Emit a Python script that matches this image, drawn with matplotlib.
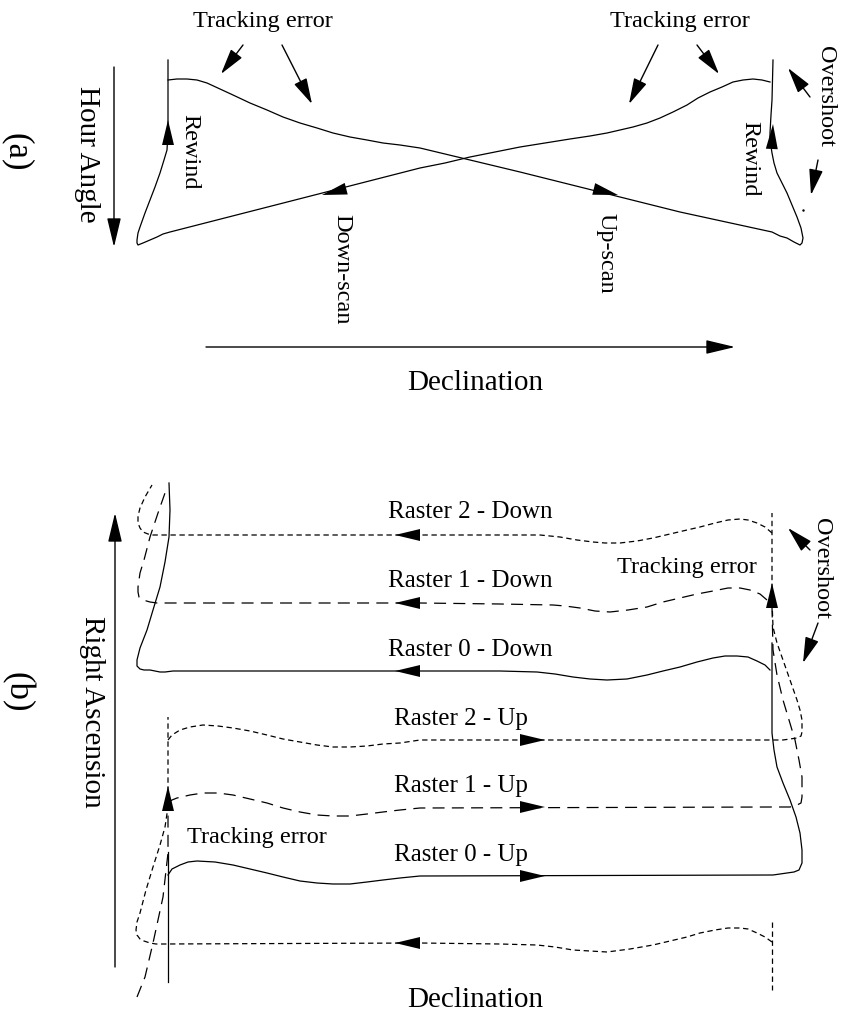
import matplotlib
matplotlib.use("Agg")
import matplotlib.pyplot as plt

plt.rcParams['font.family'] = ['Liberation Serif', 'DejaVu Serif']

# ---- panel (a): hour angle / declination scan (pixel coords, y down) ----
upscan_x = [168, 177, 187, 197, 207, 220, 233, 250, 267, 283, 300, 317, 333, 350, 367, 383, 400, 420, 470, 520, 600, 680,
            772, 780, 787, 794, 800, 802, 803, 801, 797, 792, 787, 782, 777, 774, 772, 770, 770, 771, 772, 773]
upscan_y = [80, 79, 79, 80, 83, 89, 95, 103, 110, 117, 123, 128, 133, 137, 140, 143, 145, 148, 160, 172, 192, 212,
            232, 236, 238, 242, 245, 243, 238, 228, 217, 205, 193, 183, 173, 163, 153, 140, 133, 115, 100, 60]

downscan_x = [770, 762, 753, 743, 733, 722, 710, 698, 687, 673, 660, 647, 633, 620, 607, 590, 570, 545, 520, 495, 470, 445, 420,
              170, 163, 157, 150, 143, 138, 137, 137, 138, 140, 145, 150, 155, 160, 164, 167, 168, 168, 168]
downscan_y = [82, 80, 79, 80, 82, 87, 92, 98, 105, 112, 118, 123, 127, 130, 133, 136, 139, 143, 147, 152, 157, 163, 168,
              232, 234, 237, 240, 243, 245, 243, 240, 233, 227, 213, 200, 187, 173, 160, 150, 133, 100, 60]

# ---- panel (b): raster scans ----
r2_down_x = [772, 765, 757, 748, 740, 728, 715, 700, 687, 670, 653, 637, 620, 605, 593, 577, 560, 540, 520, 420,
             160, 153, 148, 143, 140, 138, 138, 140, 145, 152]
r2_down_y = [533, 527, 523, 520, 519, 520, 523, 527, 530, 534, 538, 541, 543, 543, 542, 540, 537, 535, 535, 535,
             535, 535, 534, 532, 528, 523, 516, 508, 497, 485]

r1_down_x = [767, 760, 750, 740, 728, 713, 697, 680, 663, 647, 628, 610, 595, 580, 565, 553, 500, 420,
             157, 150, 143, 139, 138, 138, 140, 144, 150, 158, 165]
r1_down_y = [600, 594, 590, 588, 588, 591, 594, 598, 602, 607, 610, 612, 611, 608, 606, 605, 604, 603,
             603, 602, 600, 597, 592, 587, 573, 560, 537, 513, 493]

r0_down_x = [770, 765, 757, 748, 737, 725, 713, 697, 680, 663, 647, 627, 607, 590, 573, 555, 537, 500, 420,
             173, 165, 160, 155, 150, 144, 140, 137, 137, 140, 147, 153, 160, 165, 169, 170, 169]
r0_down_y = [670, 665, 661, 657, 656, 656, 658, 662, 667, 671, 675, 679, 680, 679, 677, 674, 672, 671, 671,
             671, 672, 672, 671, 670, 670, 669, 666, 660, 648, 630, 610, 587, 562, 537, 510, 483]

r2_up_x = [168, 172, 180, 190, 203, 218, 233, 250, 267, 283, 300, 317, 333, 350, 367, 383, 400, 420,
           773, 783, 790, 797, 801, 802, 802, 800, 797, 790, 783, 777, 773, 772, 772]
r2_up_y = [740, 735, 730, 727, 725, 726, 728, 731, 735, 739, 742, 745, 747, 747, 746, 744, 743, 740,
           740, 740, 739, 738, 736, 732, 720, 710, 700, 680, 660, 643, 627, 600, 513]

r1_up_x = [168, 172, 177, 190, 203, 218, 233, 250, 267, 283, 300, 317, 333, 350, 367, 383, 400, 420,
           773, 783, 790, 797, 801, 802, 802, 799, 795, 789, 783, 777, 773, 772, 772]
r1_up_y = [803, 800, 798, 795, 793, 793, 795, 799, 803, 808, 812, 815, 816, 816, 814, 812, 810, 808,
           807, 807, 807, 805, 803, 797, 777, 760, 740, 720, 700, 675, 650, 607, 590]

r0_up_x = [168, 172, 180, 188, 197, 215, 233, 250, 267, 283, 300, 317, 333, 350, 367, 383, 400, 420,
           773, 780, 787, 794, 799, 802, 802, 800, 796, 790, 783, 777, 774, 772, 772]
r0_up_y = [875, 869, 865, 862, 861, 862, 865, 869, 873, 877, 881, 883, 884, 884, 882, 880, 878, 876,
           875, 874, 873, 872, 870, 863, 850, 833, 817, 800, 783, 767, 750, 733, 643]

r3_down_x = [772, 765, 757, 748, 740, 728, 715, 700, 687, 670, 653, 630, 607, 590, 573, 555, 537, 500, 420,
             163, 156, 150, 144, 140, 137, 136, 137, 140, 146, 153, 160, 165, 168, 168]
r3_down_y = [942, 937, 933, 929, 928, 928, 930, 933, 937, 941, 945, 949, 952, 951, 950, 947, 945, 944, 943,
             944, 944, 943, 941, 939, 935, 930, 922, 913, 890, 867, 845, 827, 807, 717]

left_long_x = [137, 145, 153, 163, 168, 168]
left_long_y = [997, 977, 943, 897, 853, 805]

raster_labels = ["Raster 2 - Down", "Raster 1 - Down", "Raster 0 - Down",
                 "Raster 2 - Up", "Raster 1 - Up", "Raster 0 - Up"]
raster_label_y = [512, 581, 650, 719, 786, 855]
raster_label_x = [470, 470, 470, 461, 461, 461]

SHORT = (0, (4.3, 2.9))
LONG = (0, (9.6, 5.8))
LW = 0.9

fig = plt.figure(figsize=(8.45, 10.24), dpi=100)
ax = fig.add_axes([0, 0, 1, 1])
ax.set_xlim(0, 845)
ax.set_ylim(1024, 0)
ax.axis('off')


def arrow(tip, base, lw=1.0, hl=18, hw=4.3):
    ax.annotate('', xy=tip, xytext=base,
                arrowprops=dict(arrowstyle=f'-|>,head_length={hl},head_width={hw}',
                                mutation_scale=1, color='k', lw=lw,
                                shrinkA=0, shrinkB=0))


def head(tip, base):
    arrow(tip, base, lw=0)


def curve(xs, ys, ls='-'):
    ax.plot(xs, ys, color='k', lw=LW, ls=ls, solid_joinstyle='round')


# panel (a)
curve(upscan_x, upscan_y)
curve(downscan_x, downscan_y)
head((618, 195), (598, 190))
head((322, 195), (345, 189))
head((168, 120), (168, 143))
head((773, 124), (772, 145))

arrow((114, 247), (114, 67))
arrow((735, 347), (206, 347))
arrow((221, 74), (243, 45), hl=16)
arrow((312, 104), (282, 45), hl=16)
arrow((629, 104), (658, 45), hl=16)
arrow((719, 74), (697, 45), hl=16)
arrow((788, 68), (810, 97), hl=16)
arrow((811, 195), (818, 160), hl=16)
ax.plot([803], [210], marker='.', ms=1.5, color='k')

ax.text(17, 152, "(a)", fontsize=25, rotation=270, ha='center', va='center')
ax.text(87, 154, "Hour Angle", fontsize=21, rotation=270, ha='center', va='center')
ax.text(263, 22, "Tracking error", fontsize=17.5, ha='center', va='center')
ax.text(680, 22, "Tracking error", fontsize=17.5, ha='center', va='center')
ax.text(190, 152, "Rewind", fontsize=17.5, rotation=270, ha='center', va='center')
ax.text(750, 159, "Rewind", fontsize=17.5, rotation=270, ha='center', va='center')
ax.text(342, 269, "Down-scan", fontsize=17.5, rotation=270, ha='center', va='center')
ax.text(606, 253, "Up-scan", fontsize=17.5, rotation=270, ha='center', va='center')
ax.text(826, 96, "Overshoot", fontsize=17.5, rotation=270, ha='center', va='center')
ax.text(475, 383, "Declination", fontsize=21, ha='center', va='center')

# panel (b)
curve(r2_down_x, r2_down_y, SHORT)
curve(r1_down_x, r1_down_y, LONG)
curve(r0_down_x, r0_down_y)
curve(r2_up_x, r2_up_y, SHORT)
curve(r1_up_x, r1_up_y, LONG)
curve(r0_up_x, r0_up_y)
curve(r3_down_x, r3_down_y, SHORT)
curve(left_long_x, left_long_y, LONG)
curve([168, 168], [852, 982])
curve([772, 772], [922, 990], SHORT)

for yy in [535, 603, 671, 943]:
    head((395, yy), (420, yy))
for yy in [740, 807, 876]:
    head((545, yy), (522, yy))
head((772, 583), (772, 604))
head((168, 786), (168, 808))

arrow((788, 528), (810, 550), hl=16)
arrow((803, 663), (818, 623), hl=16)
arrow((735, 1027), (206, 1027))

for lab, lx, ly in zip(raster_labels, raster_label_x, raster_label_y):
    ax.text(lx, ly, lab, fontsize=18, ha='center', va='center')

ax.text(17, 692, "(b)", fontsize=25, rotation=270, ha='center', va='center')
ax.text(92, 712, "Right Ascension", fontsize=21, rotation=270, ha='center', va='center')
arrow((115, 513), (115, 967))
ax.text(687, 567, "Tracking error", fontsize=17.5, ha='center', va='center')
ax.text(257, 838, "Tracking error", fontsize=17.5, ha='center', va='center')
ax.text(822, 568, "Overshoot", fontsize=17.5, rotation=270, ha='center', va='center')
ax.text(475, 1000, "Declination", fontsize=21, ha='center', va='center')

fig.savefig("out.png", dpi=100)
